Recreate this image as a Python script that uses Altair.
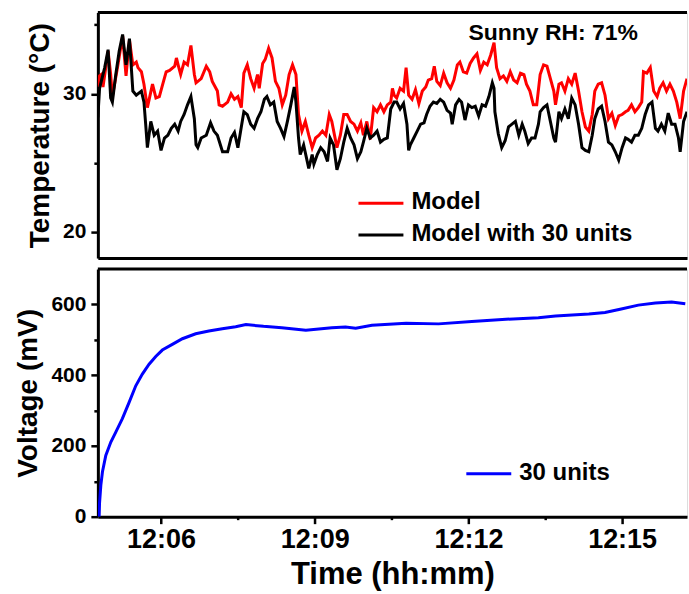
import altair as alt
import pandas as pd

# ---- data (time in seconds after 12:00) ----
model_time = [286, 288, 290, 292, 298, 301, 303, 309, 315, 319, 323, 327, 331, 333, 337, 340, 344, 350, 354, 358,
              362, 366, 370, 376, 378, 380, 383, 387, 391, 395, 399, 401, 407, 413, 417, 420, 426, 428, 432, 438,
              442, 446, 450, 454, 457,
              461, 465, 469, 473, 475, 479, 482, 486, 490, 494, 498, 502, 506, 510, 514, 518, 521, 525, 529, 533,
              537, 541, 545, 549, 553, 557, 560, 566, 570, 574, 578, 582, 586, 590, 594, 597, 601, 605, 609, 613,
              617, 621, 625, 629, 631, 633,
              636, 640, 644, 647, 650, 654, 658, 662, 666, 670, 673, 677, 680, 683, 687, 691, 695, 699, 703, 707,
              710, 714, 718, 722, 726, 730, 734, 738, 742, 746, 750, 753, 757, 761, 765, 769, 773, 777, 781, 785,
              788, 792, 796, 800, 804, 808,
              812, 816, 820, 822, 826, 829, 833, 837, 841, 845, 849, 853, 857, 861, 865, 868, 872, 876, 880, 884,
              888, 892, 896, 900, 904, 907, 911, 915, 919, 923, 925, 929, 933, 937, 941, 944, 948, 952, 956, 960,
              964, 968, 972, 976]
model_temp = [30.5, 31.3, 31.4, 30.5, 33.1, 31.4, 29.8, 31.9, 34.2, 31.3, 33.9, 32.1, 32.3, 31.9, 31.6, 30.7, 29.0, 30.7, 29.7, 29.8,
              30.7, 31.6, 31.7, 32.0, 32.6, 32.1, 31.4, 32.3, 32.1, 33.5, 31.4, 30.8, 31.1, 32.0, 31.6, 30.9, 30.2, 29.2, 29.1, 29.4,
              30.0, 29.6, 29.8, 29.0, 31.5,
              32.1, 31.1, 30.4, 31.4, 30.4, 32.2, 32.5, 33.3, 32.6, 30.9, 30.4, 29.2, 29.9, 31.4, 32.1, 31.4, 28.5, 27.3, 28.0, 27.0,
              26.1, 26.8, 27.0, 27.3, 27.0, 28.5, 28.0, 26.1, 27.0, 28.5, 28.5, 28.0, 27.8, 27.3, 27.9, 27.0, 28.0, 26.7, 29.0, 28.7,
              29.2, 28.7, 29.2, 29.4, 30.4, 29.9,
              29.7, 30.4, 30.2, 31.9, 29.9, 29.6, 30.3, 29.3, 30.2, 30.5, 31.0, 31.1, 32.0, 30.9, 30.6, 31.5, 30.8, 30.4, 31.0, 32.1,
              32.3, 31.6, 31.5, 32.2, 32.6, 32.9, 31.7, 32.3, 32.1, 32.8, 33.7, 31.9, 31.1, 31.3, 30.9, 31.6, 31.0, 30.8, 31.5, 31.4,
              30.7, 30.2, 29.2, 29.2, 31.4, 32.1,
              32.0, 31.1, 30.2, 29.2, 30.7, 30.8, 30.2, 31.1, 30.7, 31.5, 30.2, 28.7, 27.6, 27.3, 28.5, 30.2, 30.7, 30.8, 29.9, 28.2,
              28.6, 27.7, 28.4, 28.5, 28.7, 28.8, 29.2, 28.7, 29.0, 29.4, 31.6, 31.5, 31.9, 30.2, 29.8, 30.4, 30.8, 30.2, 30.7, 30.2,
              29.4, 28.2, 30.2, 31.1]

units_time = [286, 288, 290, 294, 298, 301, 303, 307, 311, 315, 319, 323, 327, 331, 337, 340, 342, 344, 348, 352,
              356, 360, 364, 368, 372, 376, 380, 383, 387, 391, 395, 399, 401, 403, 407, 413, 418, 422, 426, 432,
              438, 442, 446, 450, 454, 457,
              461, 465, 469, 473, 477, 481, 484, 488, 492, 496, 500, 504, 508, 512, 516, 518, 521, 523, 527, 533,
              537, 539, 543, 547, 551, 555, 558, 562, 566, 570, 574, 578, 582, 586, 590, 594, 597, 601, 605, 609,
              613, 617, 621, 625, 629, 633,
              636, 640, 644, 648, 650, 652, 656, 660, 664, 668, 671, 675, 679, 683, 687, 691, 695, 699, 701, 705,
              709, 712, 716, 720, 724, 728, 732, 736, 740, 744, 748, 750, 751, 755, 759, 763, 767, 771, 775, 779,
              783, 786, 790, 794, 798, 802, 804, 808,
              812, 816, 820, 822, 826, 829, 833, 837, 841, 845, 849, 853, 857, 861, 865, 868, 872, 876, 880, 884,
              888, 892, 896, 900, 904, 907, 911, 915, 919, 923, 927, 931, 935, 939, 942, 946, 950, 954, 958, 962,
              966, 968, 972, 976]
units_temp = [28.3, 30.4, 30.9, 31.9, 33.2, 29.7, 29.4, 31.4, 33.1, 34.3, 32.1, 34.0, 30.2, 29.9, 30.2, 29.4, 27.8, 26.1, 28.0, 27.0,
              27.3, 25.9, 26.8, 27.0, 27.5, 27.8, 27.3, 28.0, 28.5, 29.2, 29.8, 28.2, 26.3, 26.1, 26.8, 27.0, 27.9, 27.3, 27.0, 25.8,
              25.8, 26.8, 27.2, 26.1, 27.6, 28.7,
              28.5, 27.8, 27.5, 28.2, 28.7, 29.6, 29.8, 29.2, 29.4, 28.0, 27.5, 26.9, 28.0, 29.2, 30.5, 29.4, 26.8, 25.6, 26.3, 24.6,
              25.6, 24.9, 25.6, 26.1, 25.8, 25.1, 26.8, 26.3, 24.5, 25.3, 26.5, 27.5, 26.8, 26.3, 25.3, 25.8, 26.5, 27.5, 26.8, 27.0,
              27.3, 26.5, 26.7, 26.8, 28.9, 29.4,
              29.4, 28.9, 29.3, 27.8, 25.9, 26.3, 26.8, 27.3, 27.8, 27.9, 28.5, 29.1, 29.4, 29.3, 29.6, 29.4, 28.8, 28.6, 27.8, 29.2,
              29.6, 29.4, 28.1, 29.2, 29.0, 29.1, 28.4, 29.2, 29.1, 29.8, 30.8, 30.4, 28.7, 27.1, 26.1, 26.6, 27.6, 27.8, 28.0, 27.0,
              27.8, 27.3, 26.4, 26.8, 26.8, 27.8, 28.7, 29.0,
              29.2, 28.0, 26.8, 26.5, 28.7, 28.2, 28.9, 28.2, 29.7, 29.2, 27.8, 26.1, 25.9, 25.8, 27.0, 28.2, 28.9, 29.1, 28.0, 26.5,
              26.3, 25.8, 25.2, 26.1, 26.8, 26.7, 26.5, 27.0, 27.0, 27.5, 28.5, 29.2, 29.4, 27.5, 27.3, 27.8, 27.3, 28.6, 27.8, 27.8,
              26.8, 25.8, 28.0, 28.7]

volt_time = [287.5, 288, 289.5, 291.4, 295.3, 301.2, 307, 314.7, 322.6, 330.4, 338.1, 346, 353.8, 361.5, 373.2,
             385, 400.6, 416, 431.7, 447.4, 459.4, 480, 501.5, 529.6, 560, 576, 588, 607, 647, 685,
             724, 764, 802, 822, 861, 880, 899, 919, 939, 958, 974]
volt_mv = [0, 40, 89, 127, 173, 211, 239, 277, 323, 370, 403, 431, 453, 471, 487,
           503, 517, 525, 531, 537, 543, 538, 534, 527, 534, 536, 533, 541, 547, 545,
           552, 558, 562, 567, 573, 577, 587, 598, 604, 607, 602]

series_names = ["Model", "Model with 30 units", "30 units"]
series_colors = ["#ff0000", "#000000", "#0000ff"]
note_text = "Sunny RH: 71%"

x_ticks = [360, 450, 540, 630, 720, 810, 900]
temp_ticks = [20, 25, 30, 35]
volt_ticks = [0, 100, 200, 300, 400, 500, 600]

# ---- layout / style ----
FONT = "Liberation Sans"
W, H1, H2 = 590, 246, 248
x_domain = [286, 976]
temp_domain = [18.1, 35.9]
volt_domain = [0, 700]

red_df = pd.DataFrame({"t": model_time, "T": model_temp})
black_df = pd.DataFrame({"t": units_time, "T": units_temp})
volt_df = pd.DataFrame({"t": volt_time, "V": volt_mv})
one = pd.DataFrame({"k": [0]})

x_scale = alt.Scale(domain=x_domain, nice=False, zero=False)
axis_common = dict(grid=False, domainColor="black", domainWidth=3, tickColor="black",
                   tickWidth=2.5, labelColor="black", titleColor="black",
                   labelFont=FONT, titleFont=FONT, labelFontWeight="bold", titleFontWeight="bold")

x_top = alt.X("t:Q", scale=x_scale,
              axis=alt.Axis(labels=False, ticks=False, title=None, **axis_common))
y_top = alt.Y("T:Q", scale=alt.Scale(domain=temp_domain, nice=False, zero=False),
              axis=alt.Axis(values=temp_ticks, title="Temperature (°C)",
                            labelExpr="datum.value % 10 == 0 ? datum.label : ''",
                            tickSize={"expr": "datum.value % 10 == 0 ? 7 : 4"},
                            labelFontSize=21, titleFontSize=28, labelPadding=5, titlePadding=8,
                            **axis_common))

x_bot = alt.X("t:Q", scale=x_scale,
              axis=alt.Axis(values=x_ticks, title="Time (hh:mm)",
                            labelExpr="datum.value % 180 == 0 ? '12:' + (datum.value < 600 ? '0' : '') + (datum.value / 60) : ''",
                            tickSize={"expr": "datum.value % 180 == 0 ? 7 : 3"},
                            labelFontSize=27, titleFontSize=31, labelPadding=3, titlePadding=7,
                            **axis_common))
y_bot = alt.Y("V:Q", scale=alt.Scale(domain=volt_domain, nice=False),
              axis=alt.Axis(values=volt_ticks, title="Voltage (mV)",
                            labelExpr="datum.value % 200 == 0 ? datum.label : ''",
                            tickSize={"expr": "datum.value % 200 == 0 ? 7 : 4"},
                            labelFontSize=21, titleFontSize=28, labelPadding=5, titlePadding=8,
                            **axis_common))

txt = dict(font=FONT, fontWeight="bold", color="black", baseline="middle")

# top panel
red = alt.Chart(red_df).mark_line(color=series_colors[0], strokeWidth=3, clip=True).encode(x=x_top, y=y_top)
black = alt.Chart(black_df).mark_line(color=series_colors[1], strokeWidth=3, clip=True).encode(x=x_top, y=y_top)
top_border = alt.Chart(pd.DataFrame({"T": [temp_domain[1]]})).mark_rule(color="black", strokeWidth=3).encode(y=y_top)
leg1_line = alt.Chart(one).mark_rule(color=series_colors[0], strokeWidth=3).encode(
    x=alt.value(261), x2=alt.value(306), y=alt.value(191))
leg1_text = alt.Chart(one).mark_text(text=series_names[0], align="left", fontSize=24, **txt).encode(
    x=alt.value(314), y=alt.value(190))
leg2_line = alt.Chart(one).mark_rule(color=series_colors[1], strokeWidth=3).encode(
    x=alt.value(261), x2=alt.value(306), y=alt.value(223))
leg2_text = alt.Chart(one).mark_text(text=series_names[1], align="left", fontSize=24, **txt).encode(
    x=alt.value(314), y=alt.value(222))
note = alt.Chart(one).mark_text(text=note_text, align="center", fontSize=23, **txt).encode(
    x=alt.value(456), y=alt.value(21))

top = alt.layer(red, black, top_border, leg1_line, leg1_text, leg2_line, leg2_text, note).properties(
    width=W, height=H1)

# bottom panel
blue = alt.Chart(volt_df).mark_line(color=series_colors[2], strokeWidth=3, clip=True).encode(x=x_bot, y=y_bot)
bot_border = alt.Chart(pd.DataFrame({"V": [volt_domain[1]]})).mark_rule(color="black", strokeWidth=3).encode(y=y_bot)
leg3_line = alt.Chart(one).mark_rule(color=series_colors[2], strokeWidth=3).encode(
    x=alt.value(369), x2=alt.value(414), y=alt.value(205))
leg3_text = alt.Chart(one).mark_text(text=series_names[2], align="left", fontSize=24, **txt).encode(
    x=alt.value(422), y=alt.value(204))

bottom = alt.layer(blue, bot_border, leg3_line, leg3_text).properties(width=W, height=H2)

chart = alt.vconcat(top, bottom, spacing=8).properties(
    padding={"left": 14, "top": 10, "right": 0, "bottom": 0},
    background="white",
).configure_view(stroke=None).configure(font=FONT)

chart.save("out.html", embed_options={"renderer": "svg", "actions": False})
